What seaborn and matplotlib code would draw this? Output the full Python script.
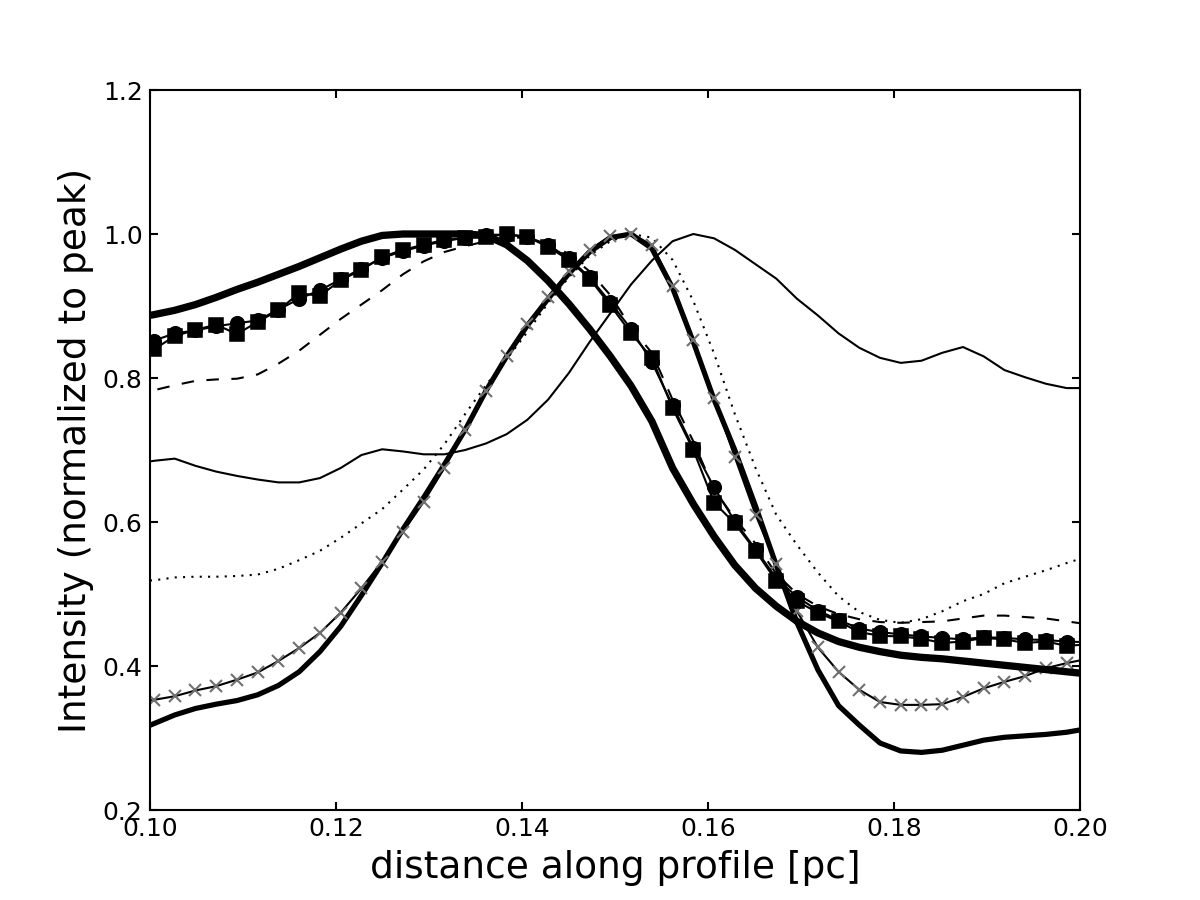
import numpy as np
import matplotlib
matplotlib.use("Agg")
import matplotlib.pyplot as plt
import seaborn as sns

# sample positions along the profile [pc] (one pixel every ~0.00223 pc)
dist = np.linspace(0.0982, 0.2008, 47)

# normalized intensity profiles
thick_wide = [0.883, 0.888, 0.894, 0.902, 0.912, 0.923, 0.933, 0.944, 0.955, 0.967,
              0.979, 0.990, 0.998, 1.000, 1.000, 1.000, 1.000, 0.998, 0.985, 0.963,
              0.935, 0.903, 0.868, 0.830, 0.789, 0.740, 0.675, 0.625, 0.580, 0.540,
              0.508, 0.483, 0.462, 0.446, 0.434, 0.426, 0.420, 0.415, 0.412, 0.410,
              0.407, 0.404, 0.401, 0.398, 0.395, 0.392, 0.389]

thick_narrow = [0.308, 0.320, 0.332, 0.341, 0.347, 0.352, 0.360, 0.373, 0.392, 0.420,
                0.455, 0.498, 0.543, 0.590, 0.634, 0.680, 0.728, 0.782, 0.830, 0.873,
                0.910, 0.945, 0.975, 0.995, 1.000, 0.980, 0.925, 0.850, 0.770, 0.700,
                0.622, 0.540, 0.460, 0.395, 0.345, 0.318, 0.293, 0.282, 0.280, 0.283,
                0.290, 0.297, 0.301, 0.303, 0.305, 0.308, 0.313]

crosses = [0.347, 0.353, 0.358, 0.366, 0.372, 0.381, 0.391, 0.407, 0.425, 0.446,
           0.474, 0.508, 0.545, 0.586, 0.628, 0.675, 0.728, 0.782, 0.830, 0.875,
           0.912, 0.948, 0.978, 0.997, 1.000, 0.985, 0.928, 0.853, 0.772, 0.690,
           0.610, 0.542, 0.476, 0.426, 0.392, 0.367, 0.350, 0.346, 0.346, 0.347,
           0.357, 0.369, 0.378, 0.386, 0.397, 0.404, 0.410]

thin_line = [0.680, 0.685, 0.688, 0.678, 0.670, 0.664, 0.659, 0.655, 0.655, 0.661,
             0.675, 0.693, 0.701, 0.698, 0.694, 0.694, 0.700, 0.709, 0.722, 0.742,
             0.770, 0.807, 0.850, 0.890, 0.930, 0.963, 0.990, 1.000, 0.994, 0.978,
             0.958, 0.938, 0.910, 0.887, 0.862, 0.842, 0.828, 0.821, 0.824, 0.835,
             0.843, 0.830, 0.811, 0.801, 0.792, 0.786, 0.786]

dotted = [0.518, 0.519, 0.523, 0.524, 0.524, 0.525, 0.527, 0.535, 0.547, 0.560,
          0.578, 0.598, 0.618, 0.645, 0.673, 0.708, 0.750, 0.790, 0.826, 0.864,
          0.904, 0.940, 0.970, 0.990, 1.000, 0.995, 0.964, 0.907, 0.834, 0.750,
          0.675, 0.610, 0.568, 0.530, 0.497, 0.475, 0.464, 0.460, 0.465, 0.476,
          0.490, 0.500, 0.515, 0.524, 0.533, 0.543, 0.552]

dashed = [0.775, 0.783, 0.790, 0.796, 0.798, 0.799, 0.805, 0.820, 0.838, 0.860,
          0.882, 0.902, 0.922, 0.944, 0.962, 0.975, 0.983, 0.990, 0.995, 0.995,
          0.988, 0.972, 0.948, 0.915, 0.870, 0.835, 0.770, 0.712, 0.645, 0.605,
          0.570, 0.528, 0.500, 0.483, 0.472, 0.465, 0.461, 0.460, 0.461, 0.462,
          0.466, 0.470, 0.470, 0.468, 0.466, 0.462, 0.458]

circles = [0.845, 0.852, 0.862, 0.866, 0.872, 0.876, 0.880, 0.895, 0.910, 0.922,
           0.937, 0.952, 0.967, 0.976, 0.984, 0.990, 0.995, 0.999, 0.999, 0.996,
           0.985, 0.966, 0.940, 0.905, 0.868, 0.822, 0.762, 0.703, 0.648, 0.601,
           0.562, 0.522, 0.496, 0.477, 0.464, 0.452, 0.447, 0.444, 0.441, 0.439,
           0.437, 0.440, 0.439, 0.437, 0.436, 0.434, 0.433]

squares = [0.830, 0.840, 0.858, 0.867, 0.874, 0.861, 0.878, 0.894, 0.918, 0.914,
           0.936, 0.950, 0.968, 0.978, 0.985, 0.992, 0.994, 0.996, 1.000, 0.996,
           0.982, 0.964, 0.938, 0.901, 0.862, 0.828, 0.758, 0.700, 0.627, 0.598,
           0.560, 0.518, 0.490, 0.474, 0.462, 0.447, 0.442, 0.441, 0.438, 0.432,
           0.434, 0.439, 0.437, 0.432, 0.434, 0.428, 0.430]

# --- style: old matplotlib look (ticks inside, on all sides, black text) ---
sns.set_style("ticks")
plt.rcParams.update({
    "xtick.direction": "in",
    "ytick.direction": "in",
    "xtick.top": True,
    "ytick.right": True,
    "xtick.major.size": 4,
    "ytick.major.size": 4,
    "axes.linewidth": 1.0,
    "axes.edgecolor": "black",
    "axes.labelcolor": "black",
    "text.color": "black",
    "xtick.color": "black",
    "ytick.color": "black",
})
plt.rcParams["font.family"] = ["DejaVu Sans"]

fig, ax = plt.subplots(figsize=(8, 6), dpi=150)
fig.subplots_adjust(left=0.125, right=0.9, bottom=0.1, top=0.9)

sns.lineplot(x=dist, y=thin_line, ax=ax, color="black", lw=1.0)
sns.lineplot(x=dist, y=dotted, ax=ax, color="black", lw=1.0, linestyle=(0, (1, 3)))
sns.lineplot(x=dist, y=dashed, ax=ax, color="black", lw=1.0, linestyle=(0, (6, 6)))
sns.lineplot(x=dist, y=thick_narrow, ax=ax, color="black", lw=2.5)
sns.lineplot(x=dist, y=crosses, ax=ax, color="black", lw=1.0, marker="x", ms=6,
             mec="#707070", mew=1.0)
sns.lineplot(x=dist, y=thick_wide, ax=ax, color="black", lw=3.5)
sns.lineplot(x=dist, y=circles, ax=ax, color="black", lw=1.0, marker="o", ms=6.5,
             mec="black", mfc="black")
sns.lineplot(x=dist, y=squares, ax=ax, color="black", lw=1.0, marker="s", ms=6.5,
             mec="black", mfc="black")

ax.set_xlim(0.10, 0.20)
ax.set_ylim(0.2, 1.2)
ax.set_xticks([0.10, 0.12, 0.14, 0.16, 0.18, 0.20])
ax.set_xticklabels(["0.10", "0.12", "0.14", "0.16", "0.18", "0.20"])
ax.set_yticks([0.2, 0.4, 0.6, 0.8, 1.0, 1.2])
ax.set_yticklabels(["0.2", "0.4", "0.6", "0.8", "1.0", "1.2"])
ax.tick_params(labelsize=12, width=1.0)

ax.set_xlabel("distance along profile [pc]", fontsize=18)
ax.set_ylabel("Intensity (normalized to peak)", fontsize=18)

plt.savefig("out.png", dpi=150, facecolor="white")
